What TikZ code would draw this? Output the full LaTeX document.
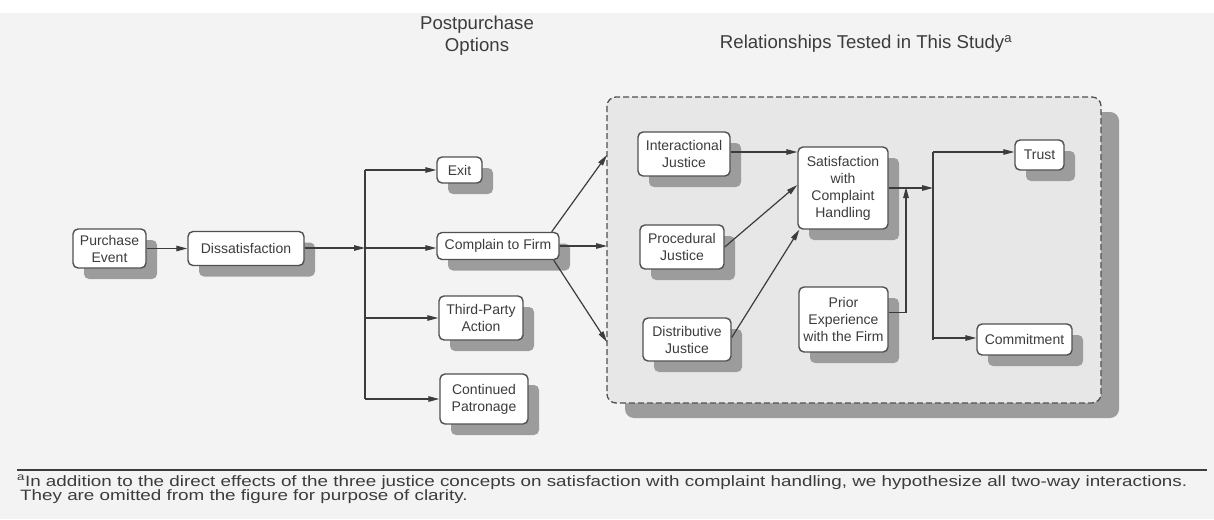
\documentclass[tikz,border=0pt]{standalone}
\usepackage{fontspec}
\setmainfont{Liberation Sans}
\newfontfamily\widesans[FakeStretch=1.255]{Liberation Sans}
\usetikzlibrary{arrows.meta,shadows}
\definecolor{pagebg}{HTML}{F3F3F3}
\definecolor{panelbg}{HTML}{E7E7E7}
\definecolor{shadowgrey}{HTML}{9C9C9C}
\definecolor{ink}{HTML}{3C3C3C}
\definecolor{edge}{HTML}{505050}
\tikzset{
  box/.style={draw=edge, line width=1.4pt, rounded corners=5pt, fill=white,
    text=ink, align=center, inner sep=2pt, font=\fontsize{14}{17}\selectfont,
    drop shadow={shadow xshift=11pt, shadow yshift=-11pt, fill=shadowgrey, opacity=1}},
  link/.style={draw=ink, line width=1.2pt, -{Triangle[length=11pt,width=5.5pt]}},
  plain/.style={draw=ink, line width=1.2pt},
  heading/.style={text=ink, align=center, font=\fontsize{18.6}{22}\selectfont}
}
\begin{document}
\begin{tikzpicture}[x=1pt,y=-1pt]
\useasboundingbox (0,0) rectangle (1214,519);
\fill[pagebg] (0,13) rectangle (1214,519);

% headings
\node[heading] (hopt) at (477,36) {Postpurchase\\Options};
\node[heading] (hrel) at (866,44) {Relationships Tested in This Study\textsuperscript{a}};

% tested-relationships panel with its shadow
\fill[shadowgrey, rounded corners=9pt] (625,112) rectangle (1119,418);
\draw[edge, fill=panelbg, line width=1.3pt, dash pattern=on 6pt off 3pt, rounded corners=9pt]
  (607,97) rectangle (1101,403);

% left chain
\node[box, minimum width=73, minimum height=39] (purchase) at (109.5,248.5) {Purchase\\Event};
\node[box, minimum width=116, minimum height=34] (dissat) at (246,248.5) {Dissatisfaction};

% postpurchase options
\coordinate (split) at (365,248);
\node[box, minimum width=45, minimum height=26] (exit) at (459.5,170) {Exit};
\node[box, minimum width=122, minimum height=27] (complain) at (498,246) {Complain to Firm};
\node[box, minimum width=84, minimum height=44] (third) at (481,318) {Third-Party\\Action};
\node[box, minimum width=88, minimum height=50] (cont) at (484,399) {Continued\\Patronage};

% panel contents
\node[box, minimum width=92, minimum height=44] (inter) at (684,154) {Interactional\\Justice};
\node[box, minimum width=84, minimum height=44] (proc) at (682,247) {Procedural\\Justice};
\node[box, minimum width=88, minimum height=43] (distr) at (687,339.5) {Distributive\\Justice};
\node[box, minimum width=90, minimum height=82] (satis) at (843,188) {Satisfaction\\with\\Complaint\\Handling};
\node[box, minimum width=89, minimum height=65] (prior) at (843.5,319.5) {Prior\\Experience\\with the Firm};
\node[box, minimum width=49, minimum height=30] (trust) at (1039.5,155) {Trust};
\node[box, minimum width=95, minimum height=31] (commit) at (1024.5,339.5) {Commitment};

% connectors, left part
\draw[link] (purchase) -- (dissat);
\draw[link] (dissat.east |- split) -- (split);
\draw[plain] (split |- exit) -- (split |- cont);
\draw[link] (split |- exit) -- (exit);
\draw[link] (split) -- (split -| complain.west);
\draw[link] (split |- third) -- (third);
\draw[link] (split |- cont) -- (cont);

% connectors into the panel
\coordinate (pin1) at (607,155);
\coordinate (pin2) at (607,246);
\coordinate (pin3) at (607,342);
\draw[link] ([xshift=-8pt]complain.north east) -- (pin1);
\draw[link] (complain.east) -- (pin2);
\draw[link] ([xshift=-6pt]complain.south east) -- (pin3);

% justice effects
\draw[link] ([yshift=2pt]inter.east) -- ([yshift=2pt]inter.east -| satis.west);
\draw[link] (proc.east) -- ([yshift=3pt]satis.west);
\draw[link] ([yshift=2pt]distr.east) -- ([xshift=2pt]satis.south west);

% outcomes
\coordinate (trunk) at (933,188);
\coordinate (join) at (906,188);
\draw[link] (satis.east) -- (trunk);
\draw[link] ([yshift=7pt]prior.east) -| ([yshift=1pt]join);
\draw[plain] (trunk |- trust) ++(0,-3) coordinate (ttop) -- (trunk |- commit) ++(0,-1.5) coordinate (tbot);
\draw[link] (ttop) -- (ttop -| trust.west);
\draw[link] (tbot) -- (tbot -| commit.west);

% footnote
\draw[ink, line width=1.8pt] (17,470) coordinate (rulel) -- (1207,470) coordinate (ruler);
\node[anchor=north west, text=ink, align=left, inner sep=0pt,
      font=\widesans\fontsize{15}{14.5}\selectfont] (note) at (17,475)
  {\textsuperscript{a}In addition to the direct effects of the three justice concepts on satisfaction with complaint handling, we hypothesize all two-way interactions.\\
   \hspace*{3pt}They are omitted from the figure for purpose of clarity.};
\end{tikzpicture}
\end{document}
